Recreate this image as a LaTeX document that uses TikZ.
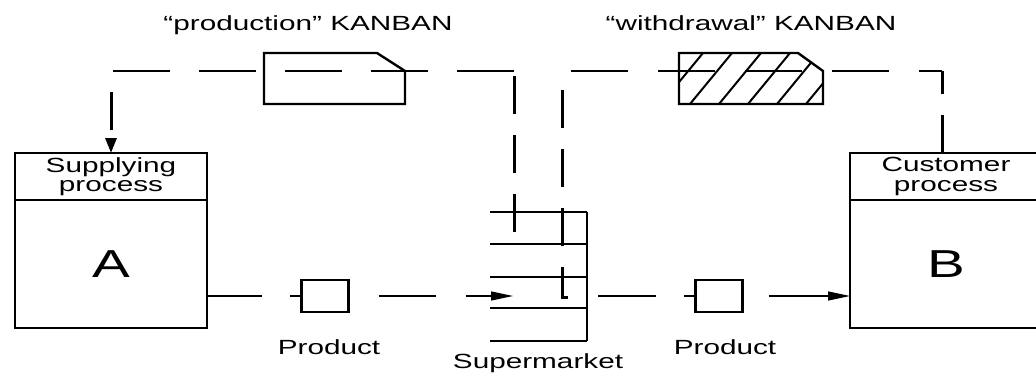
\documentclass[tikz,border=0pt]{standalone}
\usepackage{fontspec}
\setmainfont{Liberation Sans}[FakeStretch=1.45]
\usetikzlibrary{arrows.meta,positioning}

\begin{document}
\begin{tikzpicture}[
  x=1pt, y=-1pt,
  phead/.style={draw, line width=2.6pt, minimum width=192pt, minimum height=47pt, outer sep=0pt, inner sep=0pt, align=center, font=\fontsize{20.5}{19.5}\selectfont},
  pbody/.style={draw, line width=2.6pt, minimum width=192pt, minimum height=128pt, outer sep=0pt, font=\fontsize{39}{40}\selectfont},
  prod/.style={draw, line width=2.4pt, minimum width=47pt, minimum height=32pt, inner sep=0pt, outer sep=0pt},
  lbl/.style={inner sep=0pt, font=\fontsize{20.5}{24}\selectfont},
  card/.style={line width=2.4pt, line join=miter},
  hatch/.style={line width=2pt},
  shelf/.style={line width=2.4pt},
  kvert/.style={line width=3pt, dash pattern=on 38pt off 21pt},
  khorz/.style={line width=2.6pt, dash pattern=on 57pt off 29pt},
  flow/.style={line width=1.3pt},
  ftip/.style={-{Triangle[length=22pt,width=9pt]}},
  ktip/.style={-{Triangle[length=15pt,width=11pt]}},
]
\clip (0,0) rectangle (1036,375);

% === processes ===
\node[phead] (hdrA) at (111,176.5) {Supplying\\process};
\node[pbody, below=0pt of hdrA.south] (bodyA) {A};
\node[phead] (hdrB) at (946,176.5) {Customer\\process};
\node[pbody, below=0pt of hdrB.south] (bodyB) {B};

% === products and supermarket ===
\node[prod] (prod1) at (325,296) {};
\node[prod] (prod2) at (719,296) {};
\node[lbl, below=27pt of prod1, xshift=4pt] (prodLbl1) {Product};
\node[lbl, below=27pt of prod2, xshift=6pt] (prodLbl2) {Product};

\foreach \y in {212,244,277,308,341}
  \draw[shelf] (490,\y) -- (587,\y);
\draw[shelf] (587,212) -- (587,341);
\coordinate (smIn) at (513,296);
\coordinate (smOut) at (587,296);
\node[lbl, anchor=base] (smLbl) at (538,368) {Supermarket};

% product flow
\draw[flow, dash pattern=on 55pt off 28pt] (bodyA.east |- prod1.west) -- (prod1.west);
\draw[flow, ftip, dash pattern=on 57pt off 30pt, dash phase=57pt] (prod1.east) -- (smIn);
\draw[flow, dash pattern=on 58pt off 28pt, dash phase=75pt] (smOut) -- (prod2.west);
\draw[flow, ftip, dash pattern=on 79pt off 26pt, dash phase=79pt] (prod2.east) -- (bodyB.west |- prod2.east);

% === kanban loops ===
\coordinate (kTop) at (0,71);
\coordinate (pTick) at (514,232);
\coordinate (wTick) at (562,297);
\coordinate (bTop) at ([xshift=-4pt]hdrB.north);

\draw[kvert] (pTick) -- (pTick |- kTop);
\draw[khorz] (pTick |- kTop) -- (hdrA.north |- kTop);
\draw[kvert, dash phase=38pt, ktip] (hdrA.north |- kTop) -- (hdrA.north);

\draw[kvert] (bTop) -- (bTop |- kTop);
\draw[khorz, dash pattern=on 57pt off 30pt, dash phase=34pt] (bTop |- kTop) -- (wTick |- kTop);
\draw[kvert, dash phase=40pt] (wTick |- kTop) -- (wTick) -- ++(6,0);

% cards
\draw[card] (264,53) -- (377,53) -- (405,71) -- (405,104) -- (264,104) -- cycle;
\begin{scope}
  \clip (679,53) -- (798,53) -- (823,71) -- (823,104) -- (679,104) -- cycle;
  \foreach \x in {661,690,...,836}
    \draw[hatch] (\x,104) -- ++(42,-51);
\end{scope}
\draw[card] (679,53) -- (798,53) -- (823,71) -- (823,104) -- (679,104) -- cycle;

\node[lbl, anchor=base] (pkLbl) at (308,30) {“production” KANBAN};
\node[lbl, anchor=base] (wkLbl) at (751,30) {“withdrawal” KANBAN};

\end{tikzpicture}
\end{document}
